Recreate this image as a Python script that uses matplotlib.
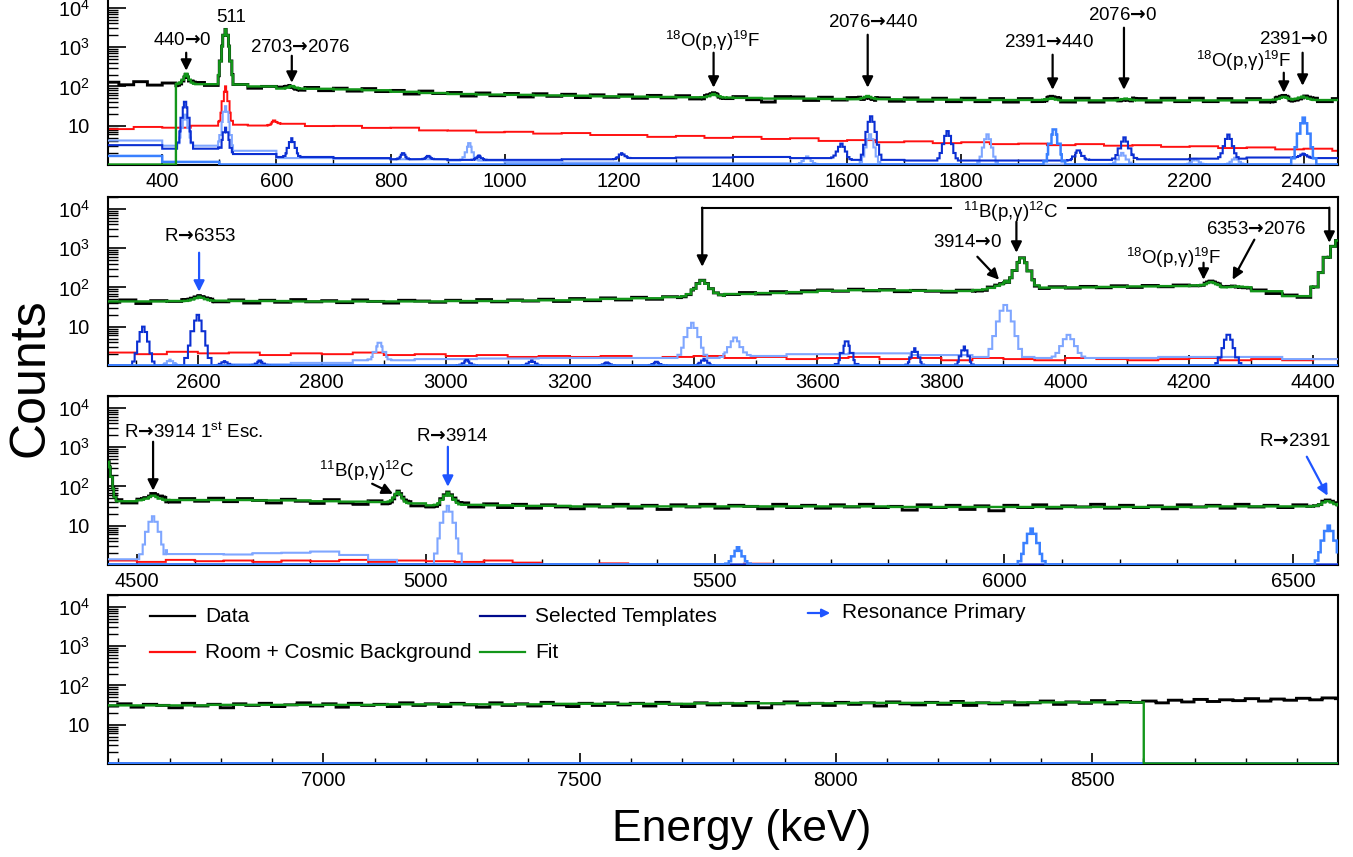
import numpy as np
import matplotlib
matplotlib.use('Agg')
import matplotlib.pyplot as plt
from matplotlib.ticker import FixedLocator, FixedFormatter, LogLocator, NullFormatter, MultipleLocator
from matplotlib.lines import Line2D
from matplotlib.patches import FancyArrowPatch

plt.rcParams['font.family'] = ['Liberation Sans', 'DejaVu Sans']
plt.rcParams['mathtext.fontset'] = 'custom'
plt.rcParams['mathtext.rm'] = 'Liberation Sans'
plt.rcParams['mathtext.it'] = 'Liberation Sans:italic'
plt.rcParams['mathtext.bf'] = 'Liberation Sans:bold'
plt.rcParams['mathtext.sf'] = 'DejaVu Sans:bold'

# ---------------------------------------------------------------- data
# Each series: continuum values in fixed-width energy bins + list of peaks (energy keV, amplitude, fwhm keV)
PEAK_SHAPE = np.array([0.03, 0.12, 0.35, 0.7, 1.0, 0.7, 0.35, 0.12, 0.03])
ZERO = 1.03  # empty histogram level (drawn on the axis floor)

# ---- Panel 1 : 300 - 2475 keV
P1_DATA = [128, 110, 132, 108, 122,
           104, 126, 106, 120,
           112, 90, 100,
           96, 80, 94, 78, 90, 76, 88, 74,
           79, 64, 76, 66, 70, 57, 68, 58,
           66, 54, 65, 56, 63, 52, 61, 53,
           61, 50, 59, 51, 58, 48, 57, 49,
           55, 46, 40, 55, 54, 44, 53, 45,
           52, 43, 51, 42, 51, 42, 50, 41,
           50, 41, 49, 40, 49, 41, 50, 40,
           50, 40, 49, 41, 49, 40, 50, 41,
           50, 41, 49, 40, 49, 40, 50, 41,
           50, 41, 49]
P1_FIT = [115, 115, 115, 114, 112, 100, 88, 87, 84, 80,
          73, 68, 64, 62, 61, 59, 58, 56, 55, 54,
          53, 52, 51, 49, 49, 48, 47, 47, 46, 46,
          45, 45, 45, 44, 44, 44, 44, 44, 44, 44,
          45, 45, 45, 45]
P1_PEAKS = [(442, 95, 10), (511, 2700, 9), (627, 14, 12), (1366, 12, 14), (1636, 10, 14),
            (1958, 6, 14), (2088, 5, 16), (2365, 9, 16), (2398, 10, 16)]
P1_RED = [8.2, 9.3, 8.9, 10.0, 10.6, 10.1, 11.2, 9.8, 9.9, 8.8,
          8.9, 7.6, 7.5, 6.8, 7.0, 6.3, 6.5, 5.8, 5.8, 5.2,
          5.5, 4.9, 5.2, 4.6, 4.8, 4.1, 4.3, 3.8, 4.0, 3.6,
          3.8, 3.4, 3.5, 3.2, 3.4, 3.1, 3.2, 2.9, 3.0, 2.7,
          2.8, 2.5, 2.6, 2.3]
P1_RED_PEAKS = [(511, 90, 8), (596, 3.5, 8)]
P1_DARK = [3.2, 2.6, 1.9, 1.6, 1.5, 1.4, 1.35, 1.35, 1.4, 1.5, 1.55,
           1.6, 1.5, 1.35, 1.3, 1.3, 1.3, 1.35, 1.4, 1.45, 1.55, 1.5]
P1_DARK_PEAKS = [(440, 38, 9), (511, 7, 9), (627, 3.2, 10), (822, 0.6, 8), (866, 0.3, 8),
                 (955, 0.4, 8), (1205, 0.5, 10), (1590, 2.0, 12), (1642, 16, 12), (1776, 6, 12),
                 (2005, 1, 12), (2086, 3.7, 14), (2268, 4.5, 12), (2400, 0.4, 12)]
P1_LIGHT = [4.2, 3.1, 2.3, 1.5, 1.45, 1.4, 1.3, 1.2, 1.15, 1.1, 1.1,
            1.1, 1.05, 1.05, 1.03, 1.03, 1.03, 1.03, 1.03, 1.03, 1.03, 1.03]
P1_LIGHT_PEAKS = [(440, 16, 9), (511, 29, 9), (938, 2.3, 10), (1530, 0.6, 12), (1640, 5, 12),
                  (1846, 5, 12), (2082, 1, 14), (2210, 0.4, 12), (2280, 0.5, 12)]
P1_MED = [1.7, 1.2] + [1.03] * 20
P1_MED_PEAKS = [(1963, 7, 12), (2400, 15, 14)]

# ---- Panel 2 : 2450 - 4450 keV
P2_DATA = [42, 48, 39, 46, 44, 49,
           50, 43, 48, 40, 47, 42, 49, 43,
           46, 41, 48, 44, 40, 47, 45, 42,
           47, 42, 49, 43, 48, 45, 50, 44,
           52, 46, 54, 48, 56, 50, 58, 55,
           64, 62, 66, 74, 68, 78, 72, 82,
           86, 80, 90, 82, 88, 78, 84, 80,
           76, 85, 80, 90, 96, 102, 94, 104,
           96, 106, 98, 110, 100, 112, 104, 115,
           110, 120, 104, 96, 86, 70, 64, 56,
           58, 62]
P2_FIT = [44, 44, 45, 46, 45, 45, 44, 44, 44, 44,
          44, 45, 45, 46, 47, 49, 51, 53, 57, 62,
          68, 72, 76, 82, 85, 84, 82, 81, 85, 97,
          99, 100, 103, 106, 108, 112, 100, 80, 60, 57]
P2_PEAKS = [(2602, 12, 16), (3414, 88, 22), (3900, 35, 30), (3930, 460, 18),
            (4235, 25, 14), (4277, 6, 20), (4442, 1500, 30)]
P2_RED = [2.2, 2.0, 2.3, 2.1, 2.2, 1.9, 2.1, 2.0, 2.2, 1.9,
          2.0, 1.8, 1.9, 1.7, 1.8, 1.7, 1.8, 1.6, 1.7, 1.8,
          1.6, 1.7, 1.5, 1.6, 1.7, 1.5, 1.6, 1.4, 1.6, 1.5,
          1.4, 1.6, 1.5, 1.4, 1.5, 1.6, 1.4, 1.5, 1.4, 1.5]
P2_DARK = [1.03] * 20
P2_DARK_PEAKS = [(2512, 9, 12), (2600, 19, 14), (2643, 0.3, 10), (2700, 0.35, 10),
                 (3034, 0.4, 10), (3139, 0.35, 10), (3260, 0.2, 10), (3340, 0.25, 10),
                 (3417, 0.5, 10), (3647, 3.2, 12), (3757, 1.8, 10), (3837, 2.1, 10),
                 (4263, 5.2, 14)]
P2_LIGHT = [1.03, 1.05, 1.1, 1.2, 1.4, 1.5, 1.55, 1.6, 1.6, 1.6,
            1.8, 2.0, 2.1, 1.9, 1.7, 1.6, 1.6, 1.7, 1.7, 1.5]
P2_LIGHT_PEAKS = [(2555, 0.4, 10), (2893, 2.5, 12), (3398, 11, 16), (3467, 3.5, 16),
                  (3903, 34, 18), (4005, 4.6, 18)]
P2_MED = [1.03] * 20

# ---- Panel 3 : 4450 - 6600 keV
P3_DATA = [46, 38, 47, 52, 40, 49, 42, 50,
           41, 49, 44, 38, 47, 42, 37, 46,
           38, 35, 43, 36, 41, 32, 30, 36,
           38, 30, 36, 29, 35, 28, 34, 30,
           27, 34, 30, 35, 28, 33, 26, 34,
           30, 35, 28, 33, 31, 27, 35, 29,
           33, 28, 34, 30, 35, 29, 31, 25,
           34, 29, 33, 26, 32, 24, 33, 29,
           34, 28, 32, 30, 35, 28, 33, 29,
           32, 27, 34, 30, 33, 28, 35, 30,
           33, 29, 34, 31, 35, 33]
P3_FIT = [42, 44, 45, 45, 45, 44, 44, 42, 41, 40,
          37, 33, 34, 33, 32, 32, 31, 31, 31, 31,
          31, 31, 31, 31, 31, 31, 31, 30, 30, 30,
          30, 30, 30, 30, 30, 30, 30, 30, 31, 31,
          31, 31, 32]
P3_PEAKS = [(4450, 380, 9), (4528, 14, 18), (4952, 35, 12), (5038, 36, 16), (6560, 10, 20)]
P3_RED = [1.3, 1.2, 1.35, 1.25, 1.3, 1.2, 1.3, 1.25, 1.35, 1.2,
          1.3, 1.25, 1.2, 1.3, 1.15, 0.5, 0.5, 1.1, 0.5, 0.5,
          0.5, 0.5, 1.08, 0.5] + [0.5] * 19
P3_DARK = [1.03] * 43
P3_LIGHT = [1.4, 1.4, 1.9, 1.9, 1.85, 2.0, 2.05, 2.2, 1.8, 1.35, 1.05] + [1.03] * 32
P3_LIGHT_PEAKS = [(4528, 16, 16), (5038, 31, 16)]
P3_MED = [1.03] * 43
P3_MED_PEAKS = [(5540, 1.8, 14), (6048, 7.4, 16), (6562, 9, 16)]

# ---- Panel 4 : 6575 - 9000 keV
P4_DATA = [30, 34, 28, 33, 31, 27, 35, 30,
           33, 27, 34, 31, 35, 29, 32, 36,
           30, 34, 28, 35, 31, 33, 29, 36,
           31, 34, 29, 35, 32, 28, 36, 31,
           34, 30, 37, 32, 29, 35, 31, 36,
           32, 35, 30, 37, 33, 29, 36, 32,
           35, 31, 37, 27, 34, 38, 32, 35,
           31, 37, 33, 36, 30, 38, 34, 32,
           37, 33, 39, 31, 36, 34, 38, 32,
           36, 40, 33, 38, 35, 41, 34, 39,
           37, 40, 36, 42, 38, 44, 39, 43,
           41, 46, 40, 45, 42, 47, 43, 48,
           46]
P4_FIT = [31] * 4 + [32] * 7 + [33] * 6 + [34] * 6 + [35] * 6 + [36] * 6 + [37] * 14
P4_TEMPL = [1.03] * 25

PANELS = [
    dict(lo=300, hi=2475, xlim=(305, 2460), major=200, minor=100, fit_lo=425, fit_hi=None,
         data=P1_DATA, fit=P1_FIT, peaks=P1_PEAKS, red=P1_RED, red_peaks=P1_RED_PEAKS,
         dark=P1_DARK, dark_peaks=P1_DARK_PEAKS, light=P1_LIGHT, light_peaks=P1_LIGHT_PEAKS,
         med=P1_MED, med_peaks=P1_MED_PEAKS, tw=100),
    dict(lo=2450, hi=4450, xlim=(2455, 4440), major=200, minor=100, fit_lo=None, fit_hi=None,
         data=P2_DATA, fit=P2_FIT, peaks=P2_PEAKS, red=P2_RED, red_peaks=[],
         dark=P2_DARK, dark_peaks=P2_DARK_PEAKS, light=P2_LIGHT, light_peaks=P2_LIGHT_PEAKS,
         med=P2_MED, med_peaks=[], tw=100),
    dict(lo=4450, hi=6600, xlim=(4450, 6578), major=500, minor=100, fit_lo=None, fit_hi=None,
         data=P3_DATA, fit=P3_FIT, peaks=P3_PEAKS, red=P3_RED, red_peaks=[],
         dark=P3_DARK, dark_peaks=[], light=P3_LIGHT, light_peaks=P3_LIGHT_PEAKS,
         med=P3_MED, med_peaks=P3_MED_PEAKS, tw=50),
    dict(lo=6575, hi=9000, xlim=(6580, 8980), major=500, minor=100, fit_lo=None, fit_hi=8600,
         data=P4_DATA, fit=P4_FIT, peaks=[], red=None, red_peaks=[],
         dark=P4_TEMPL, dark_peaks=[], light=P4_TEMPL, light_peaks=[],
         med=P4_TEMPL, med_peaks=[], tw=100),
]

FINE = 2.0


def build(start, width, values, peaks, lo, hi, cut_lo=None, cut_hi=None):
    edges = np.arange(lo, hi + FINE / 2, FINE)
    c = 0.5 * (edges[:-1] + edges[1:])
    vals = np.asarray(values, float)
    idx = np.clip(((c - start) // width).astype(int), 0, len(vals) - 1)
    y = vals[idx].copy()
    for e0, amp, fw in peaks:
        step = fw / 3.0
        k = np.rint((c - e0) / step).astype(int)
        m = np.abs(k) <= 4
        y[m] += amp * PEAK_SHAPE[k[m] + 4]
    if cut_lo is not None:
        y[c < cut_lo] = ZERO
    if cut_hi is not None:
        y[c > cut_hi] = ZERO
    return edges, y


# ---------------------------------------------------------------- figure
W, H = 1353, 857
fig = plt.figure(figsize=(W / 100, H / 100), dpi=100)


def fx(x):
    return x / W


def fy(y):
    return 1 - y / H


C_BLACK = 'black'
C_GREEN = '#13961a'
C_RED = '#ff1010'
C_DARK = '#0b2fd2'
C_MED = '#3a80ff'
C_LIGHT = '#7fa6ff'
C_NAVY = '#000a8c'
C_RES = '#1f55ff'

panel_tops = [-4, 197, 396, 595]
axes = []
for i, p in enumerate(PANELS):
    top = panel_tops[i]
    ax = fig.add_axes([fx(108), fy(top + 169), fx(1338) - fx(108), 169 / H])
    axes.append(ax)
    lo, hi = p['lo'], p['hi']
    # templates
    e, y = build(lo, p['tw'], p['light'], p['light_peaks'], lo, hi, cut_hi=p['fit_hi'])
    ax.stairs(y, e, color=C_LIGHT, lw=1.5, zorder=3, baseline=None)
    e, y = build(lo, p['tw'], p['dark'], p['dark_peaks'], lo, hi, cut_hi=p['fit_hi'])
    ax.stairs(y, e, color=C_DARK, lw=1.5, zorder=4, baseline=None)
    e, y = build(lo, p['tw'], p['med'], p['med_peaks'], lo, hi, cut_hi=p['fit_hi'])
    if p['fit_hi'] is not None:
        m = 0.5 * (e[:-1] + e[1:]) > p['fit_hi']
        y[m] = 0.5
    ax.stairs(y, e, color=C_MED, lw=1.8, zorder=5, baseline=None)
    # background
    if p['red'] is not None:
        e, y = build(lo, 50, p['red'], p['red_peaks'], lo, hi)
        ax.stairs(y, e, color=C_RED, lw=1.4, zorder=2, baseline=None)
    # data
    e, y = build(lo, 25, p['data'], p['peaks'], lo, hi)
    ax.stairs(y, e, color=C_BLACK, lw=2.1, zorder=6, baseline=None)
    # fit
    e, y = build(lo, 50, p['fit'], p['peaks'], lo, hi, cut_lo=p['fit_lo'], cut_hi=p['fit_hi'])
    ax.stairs(y, e, color=C_GREEN, lw=1.7, zorder=7, baseline=None)

    ax.set_yscale('log')
    ax.set_ylim(1.0, 2.0e4)
    ax.set_xlim(*p['xlim'])
    ax.yaxis.set_major_locator(FixedLocator([10, 100, 1000, 10000]))
    ax.yaxis.set_major_formatter(FixedFormatter(['10', '$10^2$', '$10^3$', '$10^4$']))
    ax.yaxis.set_minor_locator(LogLocator(base=10, subs=np.arange(2, 10), numticks=20))
    ax.yaxis.set_minor_formatter(NullFormatter())
    ax.xaxis.set_major_locator(MultipleLocator(p['major']))
    ax.xaxis.set_minor_locator(MultipleLocator(p['minor']))
    ax.tick_params(axis='y', which='major', direction='in', length=13, width=1.2,
                   labelsize=14.5, pad=13, right=False)
    ax.tick_params(axis='y', which='minor', direction='in', length=7, width=1.0, right=False)
    ax.tick_params(axis='x', which='major', direction='in', length=8, width=1.2,
                   labelsize=14.5, pad=5, top=False)
    ax.tick_params(axis='x', which='minor', direction='in', length=4.5, width=1.0, top=False)
    for s in ax.spines.values():
        s.set_linewidth(1.5)


def arrow(ax, x0, y0, x1, y1, color='black'):
    ax.annotate('', xy=(x1, y1), xytext=(x0, y0),
                arrowprops=dict(arrowstyle='-|>', color=color, lw=1.6, mutation_scale=16,
                                shrinkA=0, shrinkB=0), annotation_clip=False)


def label(ax, x, y, s, **kw):
    ax.text(x, y, s, ha='center', va='center', fontsize=13.5, zorder=10, **kw)


RA = r'$\mathsf{→}$'
O18 = r'$^{18}$O(p,γ)$^{19}$F'
B11 = r'$^{11}$B(p,γ)$^{12}$C'

a1, a2, a3, a4 = axes
# Panel 1 annotations
label(a1, 435, 1456, '440' + RA + '0'); arrow(a1, 442, 720, 442, 251)
label(a1, 521, 5600, '511')
label(a1, 642, 966, '2703' + RA + '2076'); arrow(a1, 627, 602, 627, 124)
label(a1, 1364, 1456, O18); arrow(a1, 1366, 720, 1366, 93)
label(a1, 1646, 4180, '2076' + RA + '440'); arrow(a1, 1636, 2066, 1636, 93)
label(a1, 1953, 1295, '2391' + RA + '440'); arrow(a1, 1960, 641, 1960, 82)
label(a1, 2083, 6300, '2076' + RA + '0'); arrow(a1, 2085, 3120, 2085, 82)
label(a1, 2382, 1540, '2391' + RA + '0'); arrow(a1, 2398, 720, 2398, 104)
label(a1, 2295, 451, O18); arrow(a1, 2365, 223, 2365, 69)

# Panel 2 annotations
label(a2, 2603, 1950, 'R' + RA + '6353'); arrow(a2, 2602, 764, 2602, 78, color=C_RES)
yb = 10700
a2.plot([3414, 3815], [yb, yb], color='black', lw=1.5, zorder=10)
a2.plot([4005, 4426], [yb, yb], color='black', lw=1.5, zorder=10)
arrow(a2, 3414, yb, 3414, 336)
arrow(a2, 4426, yb, 4426, 1370)
label(a2, 3911, 8430, B11); arrow(a2, 3921, 4700, 3921, 764)
label(a2, 3842, 1370, '3914' + RA + '0'); arrow(a2, 3858, 604, 3893, 157)
label(a2, 4175, 570, O18); arrow(a2, 4223, 425, 4223, 157)
label(a2, 4308, 2940, '6353' + RA + '2076'); arrow(a2, 4305, 1640, 4270, 157)

# Panel 3 annotations
label(a3, 4599, 2450, 'R' + RA + r'3914 1$^{\mathrm{st}}$ Esc.'); arrow(a3, 4528, 1370, 4528, 78)
label(a3, 4898, 251, B11); arrow(a3, 4907, 117, 4943, 65)
label(a3, 5045, 1840, 'R' + RA + '3914'); arrow(a3, 5038, 1020, 5038, 98, color=C_RES)
label(a3, 6503, 1370, 'R' + RA + '2391'); arrow(a3, 6524, 570, 6560, 58, color=C_RES)

# Legend (panel 4)
LEG_FS = 15
for (x0, yy, col, txt) in [(150, 616, C_BLACK, 'Data'), (480, 616, C_NAVY, 'Selected Templates'),
                           (150, 652, C_RED, 'Room + Cosmic Background'), (480, 652, C_GREEN, 'Fit')]:
    fig.add_artist(Line2D([fx(x0), fx(x0 + 45)], [fy(yy), fy(yy)], color=col, lw=1.6))
    fig.text(fx(x0 + 55), fy(yy), txt, ha='left', va='center', fontsize=LEG_FS)
fig.add_artist(FancyArrowPatch((fx(805), fy(613)), (fx(833), fy(613)), transform=fig.transFigure,
                               arrowstyle='-|>', mutation_scale=12, color=C_RES, lw=1.6))
fig.text(fx(842), fy(613), 'Resonance Primary', ha='left', va='center', fontsize=LEG_FS)

# Axis titles
fig.text(fx(30), fy(378), 'Counts', rotation=90, ha='center', va='center', fontsize=36)
fig.text(fx(742), fy(829), 'Energy (keV)', ha='center', va='center', fontsize=32)

fig.savefig('out.png', dpi=100)
